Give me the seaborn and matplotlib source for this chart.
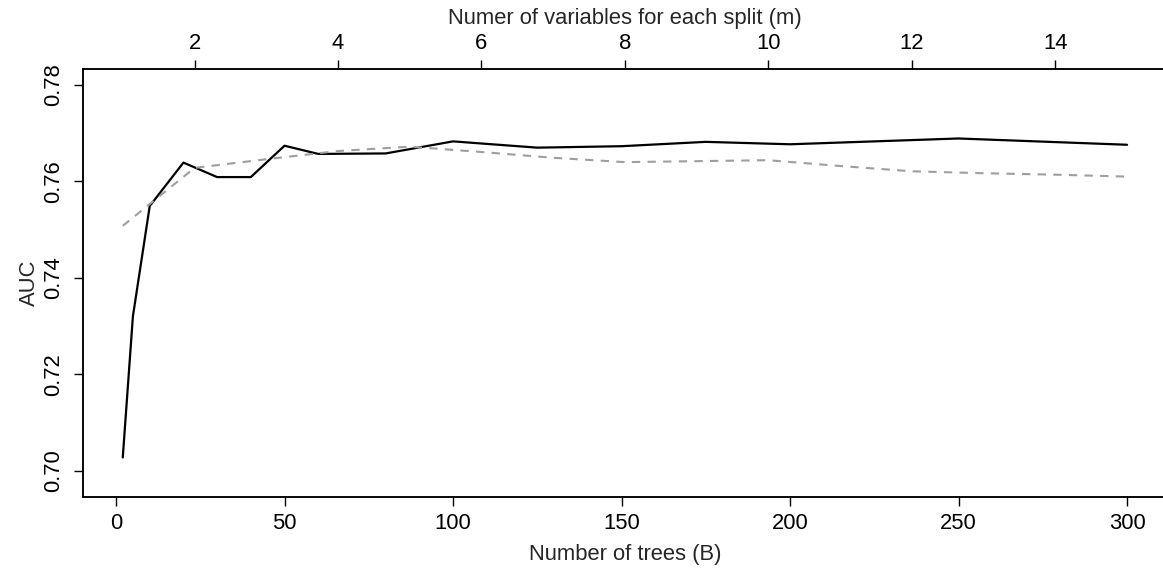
import numpy as np
import pandas as pd
import matplotlib
matplotlib.use("Agg")
import matplotlib.pyplot as plt
import seaborn as sns

# AUC against the number of trees (bottom axis)
trees = [2, 5, 10, 20, 30, 40, 50, 60, 80, 100, 125, 150, 175, 200, 250, 300]
auc_trees = [0.7028, 0.7320, 0.7549, 0.7639, 0.7609, 0.7609, 0.7674, 0.7657,
             0.7658, 0.7683, 0.7670, 0.7673, 0.7682, 0.7677, 0.7689, 0.7676]

# AUC against the number of variables tried at each split (top axis)
mtry = list(range(1, 16))
auc_mtry = [0.7508, 0.7628, 0.7646, 0.7663, 0.7672, 0.7661, 0.7649, 0.7640,
            0.7642, 0.7644, 0.7632, 0.7621, 0.7617, 0.7614, 0.7610]

bottom_ticks = [0, 50, 100, 150, 200, 250, 300]
top_ticks = [2, 4, 6, 8, 10, 12, 14]
y_ticks = [0.70, 0.72, 0.74, 0.76, 0.78]

sns.set_theme(style="white")
plt.rcParams["font.family"] = ["Liberation Sans", "DejaVu Sans"]
plt.rcParams["axes.linewidth"] = 1.1

W, H = 1163, 572
fig = plt.figure(figsize=(W / 100, H / 100), dpi=100)
left_px, right_px, top_px, bottom_px = 82.6, 1167.2, 69, 497
ax = fig.add_axes([left_px / W, 1 - bottom_px / H,
                   (right_px - left_px) / W, (bottom_px - top_px) / H])

df_b = pd.DataFrame({"B": trees, "AUC": auc_trees})
df_m = pd.DataFrame({"m": mtry, "AUC": auc_mtry})

sns.lineplot(data=df_b, x="B", y="AUC", ax=ax, color="black", linewidth=1.6,
             estimator=None, sort=False)
ax.set_xlim(-9.92, 311.92)
ax.set_ylim(0.6946, 0.7833)

ax2 = ax.twiny()
sns.lineplot(data=df_m, x="m", y="AUC", ax=ax2, color="#9e9e9e", linewidth=1.5,
             linestyle=(0, (4, 3.5)), estimator=None, sort=False)
ax2.set_xlim(0.44, 15.56)
ax2.set_ylim(0.6946, 0.7833)

fs = 15.8
ax.set_xticks(bottom_ticks)
ax.set_xticklabels([str(t) for t in bottom_ticks], fontsize=fs)
ax.set_yticks(y_ticks)
ax.set_yticklabels([f"{t:.2f}" for t in y_ticks], fontsize=fs, rotation=90,
                   va="center")
ax.set_xlabel("Number of trees (B)", fontsize=fs, labelpad=7)
ax.set_ylabel("AUC", fontsize=fs, labelpad=2)
ax.tick_params(axis="x", bottom=True, direction="out", length=6.5, width=1.0,
               color="black", pad=5, labelcolor="black")
ax.tick_params(axis="y", left=True, direction="out", length=6.5, width=1.0,
               color="black", pad=7, labelcolor="black")

ax2.set_xticks(top_ticks)
ax2.set_xticklabels([str(t) for t in top_ticks], fontsize=fs)
ax2.set_xlabel("Numer of variables for each split (m)", fontsize=fs, labelpad=7)
ax2.set_ylabel("")
ax2.tick_params(axis="x", top=True, direction="out", length=6.5, width=1.0,
                color="black", pad=4, labelcolor="black")

for a in (ax, ax2):
    for s in a.spines.values():
        s.set_color("black")
        s.set_linewidth(1.1)
    a.spines["right"].set_visible(False)

fig.savefig("out.png", dpi=100)
